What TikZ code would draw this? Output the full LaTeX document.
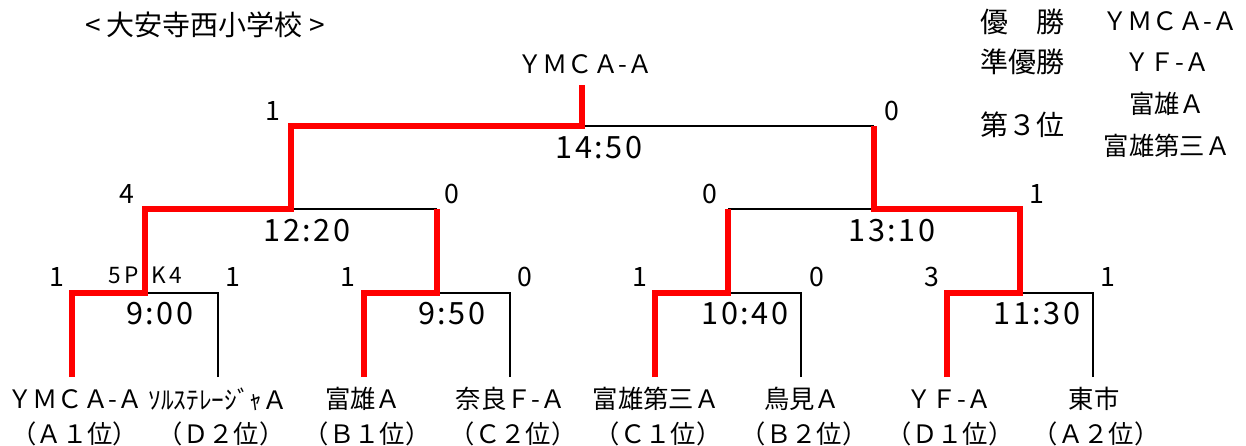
\documentclass[tikz,border=0pt]{standalone}
\usepackage{fontspec}
\setmainfont{Noto Sans CJK JP}
\newfontfamily\clockfont[LetterSpace=8]{Noto Sans CJK JP}
\newfontfamily\pkfont[LetterSpace=17]{Noto Sans CJK JP}

\begin{document}
\begin{tikzpicture}[x=0.75pt,y=-0.75pt]
	\tikzstyle{every node}=[inner sep=0pt]
	\tikzstyle{winline}=[red, line width=3.8pt]
	\tikzstyle{loseline}=[black, line width=2pt]
	\tikzstyle{score}=[font=\fontsize{20}{22}\selectfont]
	\tikzstyle{pk}=[font=\fontsize{17}{19}\pkfont]
	\tikzstyle{clock}=[font=\fontsize{23}{25}\clockfont]
	\tikzstyle{team}=[font=\fontsize{19}{21}\selectfont]
	\tikzstyle{head}=[font=\fontsize{21}{24}\selectfont]
	\tikzstyle{result}=[font=\fontsize{19}{22}\selectfont]

	\useasboundingbox (0,0) rectangle (1246,446);

	\coordinate (t1) at (72,377);
	\coordinate (t2) at (218,377);
	\coordinate (t3) at (364,377);
	\coordinate (t4) at (510,377);
	\coordinate (t5) at (655,377);
	\coordinate (t6) at (801,377);
	\coordinate (t7) at (947,377);
	\coordinate (t8) at (1093,377);
	\coordinate (m1) at (145,293);
	\coordinate (m2) at (437,293);
	\coordinate (m3) at (728,293);
	\coordinate (m4) at (1020,293);
	\coordinate (s1) at (291,209);
	\coordinate (s2) at (874,209);
	\coordinate (f) at (582,126);
	\coordinate (top) at (582,85);

	\draw [loseline]  (t2) |- (m1);
	\draw [loseline]  (t4) |- (m2);
	\draw [loseline]  (t6) |- (m3);
	\draw [loseline]  (t8) |- (m4);
	\draw [loseline]  (m2 |- s1) -- (s1);
	\draw [loseline]  (m3 |- s2) -- (s2);
	\draw [loseline]  (f) -- (s2 |- f);

	\draw [winline]  (t1) |- (m1) |- (s1) |- (f) -- (top);
	\draw [winline]  (t3) |- (m2) -- (m2 |- s1);
	\draw [winline]  (t5) |- (m3) -- (m3 |- s2);
	\draw [winline]  (t7) |- (m4) |- (s2) -- (s2 |- f);

	\node [head]  (title)  at (205,25)  {< 大安寺西小学校 >};
	\node [head]  (winlab)  at (1022,22)  {優　勝};
	\node [head]  (runlab)  at (1022,62)  {準優勝};
	\node [head]  (thirdlab)  at (1022,125)  {第３位};
	\node [result]  (champ)  at (1170,21)  {ＹＭＣＡ-Ａ};
	\node [result]  (runner)  at (1167,62)  {ＹＦ-Ａ};
	\node [result]  (thirda)  at (1167,104)  {富雄Ａ};
	\node [result]  (thirdb)  at (1167,146)  {富雄第三Ａ};

	\node [team]  (finalwin)  at (585,64)  {ＹＭＣＡ-Ａ};
	\node [score]  (fl)  at (273,111)  {1};
	\node [score]  (fr)  at (892,111)  {0};
	\node [clock]  (ftime)  at (599,148)  {14:50};

	\node [score]  (s1l)  at (127,194)  {4};
	\node [score]  (s1r)  at (452,194)  {0};
	\node [clock]  (s1time)  at (307,231)  {12:20};
	\node [score]  (s2l)  at (710,194)  {0};
	\node [score]  (s2r)  at (1037,194)  {1};
	\node [clock]  (s2time)  at (892,231)  {13:10};

	\node [score]  (m1l)  at (57,277)  {1};
	\node [score]  (m1r)  at (233,277)  {1};
	\node [pk]  (m1pk)  at (145.5,275)  {5P\hspace{9pt}K4};
	\node [clock]  (m1time)  at (160,314)  {9:00};
	\node [score]  (m2l)  at (348,277)  {1};
	\node [score]  (m2r)  at (525,277)  {0};
	\node [clock]  (m2time)  at (452,314)  {9:50};
	\node [score]  (m3l)  at (640,277)  {1};
	\node [score]  (m3r)  at (817,277)  {0};
	\node [clock]  (m3time)  at (745,314)  {10:40};
	\node [score]  (m4l)  at (932,277)  {3};
	\node [score]  (m4r)  at (1108,277)  {1};
	\node [clock]  (m4time)  at (1037,314)  {11:30};

	\node [team]  (n1)  at (75,399)  {ＹＭＣＡ-Ａ};
	\node [team]  (n2)  at (218,399)  {ｿﾙｽﾃﾚｰｼﾞｬＡ};
	\node [team]  (n3)  at (363,399)  {富雄Ａ};
	\node [team]  (n4)  at (511,399)  {奈良Ｆ-Ａ};
	\node [team]  (n5)  at (656,399)  {富雄第三Ａ};
	\node [team]  (n6)  at (802,399)  {鳥見Ａ};
	\node [team]  (n7)  at (949,399)  {ＹＦ-Ａ};
	\node [team]  (n8)  at (1094,399)  {東市};
	\node [team]  (r1)  at (75,434)  {（Ａ１位）};
	\node [team]  (r2)  at (221,434)  {（Ｄ２位）};
	\node [team]  (r3)  at (367,434)  {（Ｂ１位）};
	\node [team]  (r4)  at (513,434)  {（Ｃ２位）};
	\node [team]  (r5)  at (658,434)  {（Ｃ１位）};
	\node [team]  (r6)  at (804,434)  {（Ｂ２位）};
	\node [team]  (r7)  at (950,434)  {（Ｄ１位）};
	\node [team]  (r8)  at (1096,434)  {（Ａ２位）};

\end{tikzpicture}
\end{document}
